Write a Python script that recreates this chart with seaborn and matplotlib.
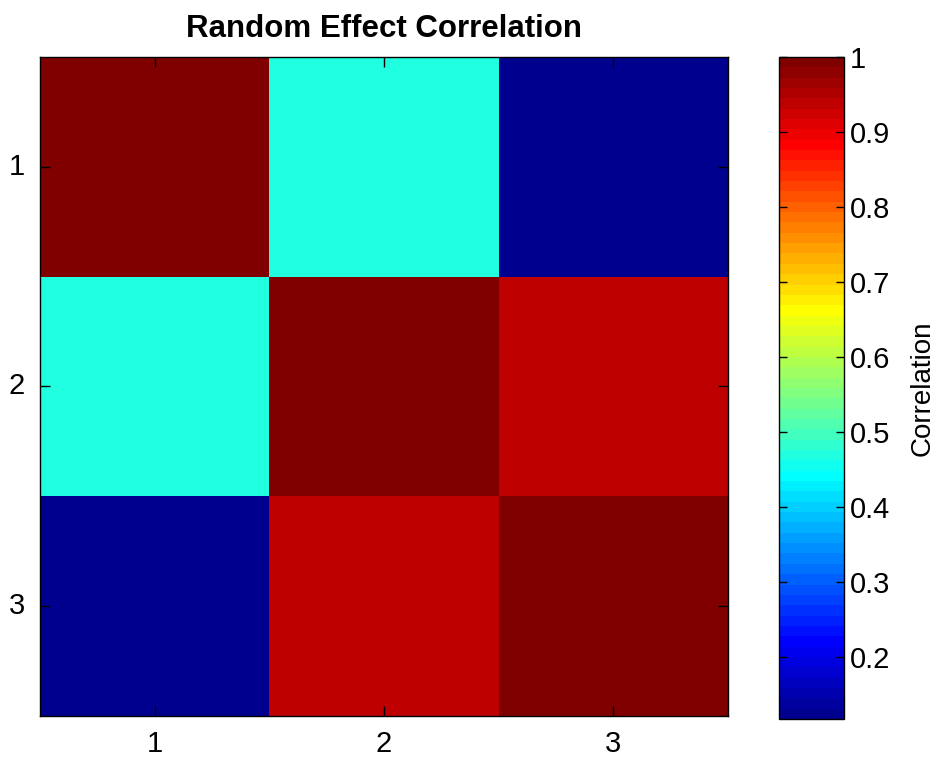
import numpy as np
import pandas as pd
import matplotlib
matplotlib.use("Agg")
import matplotlib.pyplot as plt
from matplotlib.colors import ListedColormap
import seaborn as sns

# ---- data ----
labels = ["1", "2", "3"]
row1 = [1.000, 0.470, 0.118]
row2 = [0.470, 1.000, 0.940]
row3 = [0.118, 0.940, 1.000]
cbar_ticks = [0.2, 0.3, 0.4, 0.5, 0.6, 0.7, 0.8, 0.9, 1.0]
cbar_ticklabels = ["0.2", "0.3", "0.4", "0.5", "0.6", "0.7", "0.8", "0.9", "1"]
title = "Random Effect Correlation"
cbar_label = "Correlation"

df = pd.DataFrame([row1, row2, row3], index=labels, columns=labels)

# MATLAB-style jet(64)
def matlab_jet(m=64):
    n = int(np.ceil(m / 4))
    u = np.concatenate([np.arange(1, n + 1) / n, np.ones(n - 1), np.arange(n, 0, -1) / n])
    g = int(np.ceil(n / 2)) - (1 if m % 4 == 1 else 0) + np.arange(1, len(u) + 1)
    r = g + n
    b = g - n
    cmap = np.zeros((m, 3))
    for idx, ui in zip(r, u):
        if 1 <= idx <= m:
            cmap[idx - 1, 0] = ui
    for idx, ui in zip(g, u):
        if 1 <= idx <= m:
            cmap[idx - 1, 1] = ui
    for idx, ui in zip(b, u):
        if 1 <= idx <= m:
            cmap[idx - 1, 2] = ui
    return ListedColormap(cmap)

sns.set_style("white")
plt.rcParams["font.family"] = ["Liberation Sans", "DejaVu Sans"]
plt.rcParams["text.color"] = "black"
plt.rcParams["xtick.color"] = "black"
plt.rcParams["ytick.color"] = "black"
plt.rcParams["axes.labelcolor"] = "black"
plt.rcParams["axes.axisbelow"] = False

fig = plt.figure(figsize=(9.42, 7.59), dpi=100)
ax = fig.add_axes([0.0425, 0.0567, 0.7305, 0.8683])
cax = fig.add_axes([0.827, 0.0527, 0.069, 0.8723])

vmin = min(min(row1), min(row2), min(row3))
sns.heatmap(df, ax=ax, cmap=matlab_jet(64), vmin=vmin, vmax=1.0,
            cbar=True, cbar_ax=cax, square=False, linewidths=0)
ax.collections[0].set_zorder(0)
ax.set_axisbelow(False)

ax.set_title(title, fontsize=22.5, fontweight="bold", pad=14, color="black")
ax.tick_params(axis="both", which="both", direction="in", length=7, width=1,
               labelsize=21, bottom=True, left=True, top=True, right=True,
               color="black", labelcolor="black")
ax.tick_params(axis="x", pad=10)
ax.tick_params(axis="y", pad=11)
ax.set_yticklabels(labels, rotation=0)
ax.set_xticklabels(labels, rotation=0)
for s in ax.spines.values():
    s.set_visible(True)
    s.set_color("black")
    s.set_linewidth(1)

cbar = ax.collections[0].colorbar
cbar.set_ticks(cbar_ticks)
cbar.set_ticklabels(cbar_ticklabels)
cax.tick_params(direction="in", length=6, width=1, labelsize=21, left=True, right=True,
                color="black", labelcolor="black", pad=4)
cbar.outline.set_visible(True)
cbar.outline.set_edgecolor("black")
cbar.outline.set_linewidth(1)
cbar.set_label(cbar_label, fontsize=20, labelpad=14, color="black")

fig.savefig("out.png", dpi=100)
